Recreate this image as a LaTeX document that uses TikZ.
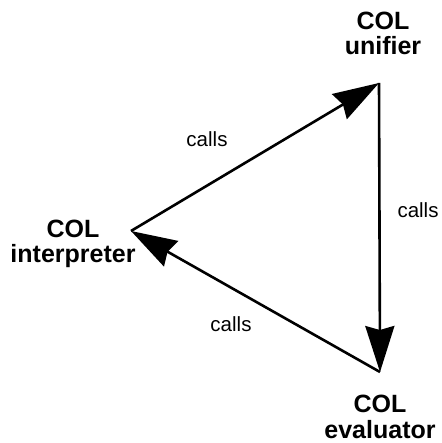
\documentclass[tikz,border=0pt]{standalone}
\usepackage{fontspec}
\setmainfont{Liberation Sans}[BoldFont={Liberation Sans Bold}]
\usetikzlibrary{arrows.meta}
\tikzset{
  module/.style={align=center, anchor=base, inner sep=0pt,
    font=\bfseries\fontsize{25}{25}\selectfont},
  calllabel/.style={anchor=base, inner sep=0pt,
    font=\fontsize{20.5}{24}\selectfont},
  callarrow/.style={line width=2.6pt,
    -{Stealth[length=46pt, width=29pt, inset=4pt]}}
}
\begin{document}
\begin{tikzpicture}[x=1pt, y=1pt]
  \useasboundingbox (0,0) rectangle (441,443);

  % corners of the call triangle
  \coordinate (U) at (379,360);
  \coordinate (I) at (131,212);
  \coordinate (E) at (380,71);

  % module names (anchored at the baseline of the second line)
  \node[module] (unifier) at (383,388) {COL\\unifier};
  \node[module] (interp) at (73,180) {COL\\interpreter};
  \node[module] (eval) at (380,5) {COL\\evaluator};

  % call relations
  \draw[callarrow] (I) -- (U);
  \draw[callarrow] (U) -- (E);
  \draw[callarrow] (E) -- (I);

  % edge labels
  \node[calllabel] (c1) at (207,296) {calls};
  \node[calllabel] (c2) at (418,225) {calls};
  \node[calllabel] (c3) at (231,111) {calls};
\end{tikzpicture}
\end{document}
